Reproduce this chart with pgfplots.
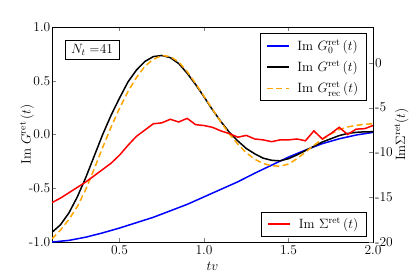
\RequirePackage{fix-cm}
\documentclass[border=0pt]{standalone}
\usepackage{pgfplots}
\pgfplotsset{compat=1.18}
\definecolor{myorange}{RGB}{255,165,0}
\newcommand{\fs}{\fontsize{13.5}{16}\selectfont}
\pgfplotsset{every axis/.append style={font=\fs},
  tick label style={font=\fs}, label style={font=\fs}}
\begin{document}
\begin{tikzpicture}
\path[use as bounding box] (-52pt,-35pt) rectangle (363pt,242pt);
\begin{axis}[
  scale only axis, width=321pt, height=215pt,
  xmin=0.1, xmax=2, ymin=-1, ymax=1,
  xtick={0.5,1,1.5,2}, xticklabels={0.5,1.0,1.5,2.0},
  ytick={-1,-0.5,0,0.5,1}, yticklabels={-1.0,-0.5,0.0,0.5,1.0},
  yticklabel style={inner xsep=1.5pt},
  tick align=inside, xtick pos=both, ytick pos=left,
  major tick length=4pt,
  xlabel={$tv$}, ylabel={$\mathrm{Im}\ G^{\mathrm{ret}}\,(t)$},
  ylabel style={yshift=-10pt},
  xlabel style={yshift=-1pt},
  legend cell align=left,
  legend style={at={(0.98,0.97)}, anchor=north east, draw=black, line width=0.6pt, inner xsep=6pt, inner ysep=4pt, row sep=5pt, font=\fs,
    /tikz/every odd column/.append style={column sep=6pt}},
  legend image code/.code={\draw[#1] (0pt,0pt) -- (22pt,0pt);},
]
\addplot[blue, line width=1.5pt] coordinates {
(0.1,-1.0) (0.2,-0.985) (0.3,-0.955) (0.4,-0.915) (0.5,-0.87) (0.6,-0.82)
(0.7,-0.77) (0.8,-0.71) (0.9,-0.65) (1.0,-0.58) (1.1,-0.51) (1.2,-0.44)
(1.3,-0.36) (1.4,-0.285) (1.5,-0.21) (1.6,-0.145) (1.7,-0.085) (1.8,-0.04)
(1.9,-0.005) (2.0,0.02)};
\addlegendentry{$\mathrm{Im}\ G_0^{\mathrm{ret}}\,(t)$}
\addplot[black, line width=1.5pt] coordinates {
(0.10,-0.91) (0.15,-0.84) (0.20,-0.73) (0.25,-0.58) (0.30,-0.40) (0.35,-0.20)
(0.40,0.00) (0.45,0.18) (0.50,0.34) (0.55,0.49) (0.60,0.60) (0.65,0.68)
(0.70,0.725) (0.75,0.735) (0.80,0.715) (0.85,0.66) (0.90,0.57) (0.95,0.465)
(1.00,0.35) (1.05,0.23) (1.10,0.12) (1.15,0.02) (1.20,-0.06) (1.25,-0.13)
(1.30,-0.18) (1.35,-0.22) (1.40,-0.24) (1.45,-0.245) (1.50,-0.225) (1.55,-0.19)
(1.60,-0.15) (1.65,-0.11) (1.70,-0.07) (1.75,-0.04) (1.80,-0.01) (1.85,0.01)
(1.90,0.02) (1.95,0.025) (2.00,0.026)};
\addlegendentry{$\mathrm{Im}\ G^{\mathrm{ret}}\,(t)$}
\addplot[myorange, line width=1.5pt, dash pattern=on 6pt off 3.5pt] coordinates {
(0.10,-0.97) (0.15,-0.89) (0.20,-0.79) (0.25,-0.67) (0.30,-0.51) (0.35,-0.32)
(0.40,-0.12) (0.45,0.07) (0.50,0.245) (0.55,0.40) (0.60,0.53) (0.65,0.635)
(0.70,0.70) (0.75,0.735) (0.80,0.725) (0.85,0.675) (0.90,0.585) (0.95,0.475)
(1.00,0.355) (1.05,0.235) (1.10,0.115) (1.15,0.005) (1.20,-0.09) (1.25,-0.17)
(1.30,-0.23) (1.35,-0.27) (1.40,-0.29) (1.45,-0.295) (1.50,-0.275) (1.55,-0.225)
(1.60,-0.165) (1.65,-0.10) (1.70,-0.045) (1.75,0.005) (1.80,0.045) (1.85,0.07)
(1.90,0.085) (1.95,0.095) (2.00,0.10)};
\addlegendentry{$\mathrm{Im}\ G^{\mathrm{ret}}_{\mathrm{rec}}\,(t)$}
\node[draw=black, line width=0.6pt, fill=white, anchor=north west, inner xsep=6pt, inner ysep=4pt, font=\fs] at (rel axis cs:0.04,0.94) {$N_t=$41};
\end{axis}
\begin{axis}[
  scale only axis, width=321pt, height=215pt,
  xmin=0.1, xmax=2, ymin=-20, ymax=4,
  axis y line*=right, axis x line=none,
  ytick={-20,-15,-10,-5,0}, yticklabels={-20,-15,-10,-5,0},
  yticklabel style={inner xsep=2pt},
  tick align=inside, major tick length=4pt,
  ylabel={$\mathrm{Im}\Sigma^{\mathrm{ret}}(t)$},
  ylabel style={yshift=4pt},
  legend cell align=left,
  legend style={at={(0.98,0.025)}, anchor=south east, draw=black, line width=0.6pt, inner xsep=6pt, inner ysep=4pt, font=\fs,
    /tikz/every odd column/.append style={column sep=6pt}},
  legend image code/.code={\draw[#1] (0pt,0pt) -- (22pt,0pt);},
]
\addplot[red, line width=1.5pt] coordinates {
(0.10,-15.6) (0.15,-15.1) (0.20,-14.5) (0.25,-13.9) (0.30,-13.3) (0.35,-12.6)
(0.40,-11.9) (0.45,-11.2) (0.50,-10.3) (0.55,-9.2) (0.60,-8.2) (0.65,-7.5)
(0.70,-6.8) (0.75,-6.7) (0.80,-6.3) (0.85,-6.6) (0.90,-6.2) (0.95,-6.9)
(1.00,-7.0) (1.05,-7.2) (1.10,-7.6) (1.15,-7.9) (1.20,-8.3) (1.25,-8.1)
(1.30,-8.5) (1.35,-8.6) (1.40,-8.8) (1.45,-8.6) (1.50,-8.6) (1.55,-8.5)
(1.60,-8.7) (1.65,-7.6) (1.70,-8.5) (1.75,-7.9) (1.80,-7.2) (1.85,-8.0)
(1.90,-7.4) (1.95,-7.35) (2.00,-7.0)};
\addlegendentry{$\mathrm{Im}\ \Sigma^{\mathrm{ret}}\,(t)$}
\end{axis}
\end{tikzpicture}
\end{document}
